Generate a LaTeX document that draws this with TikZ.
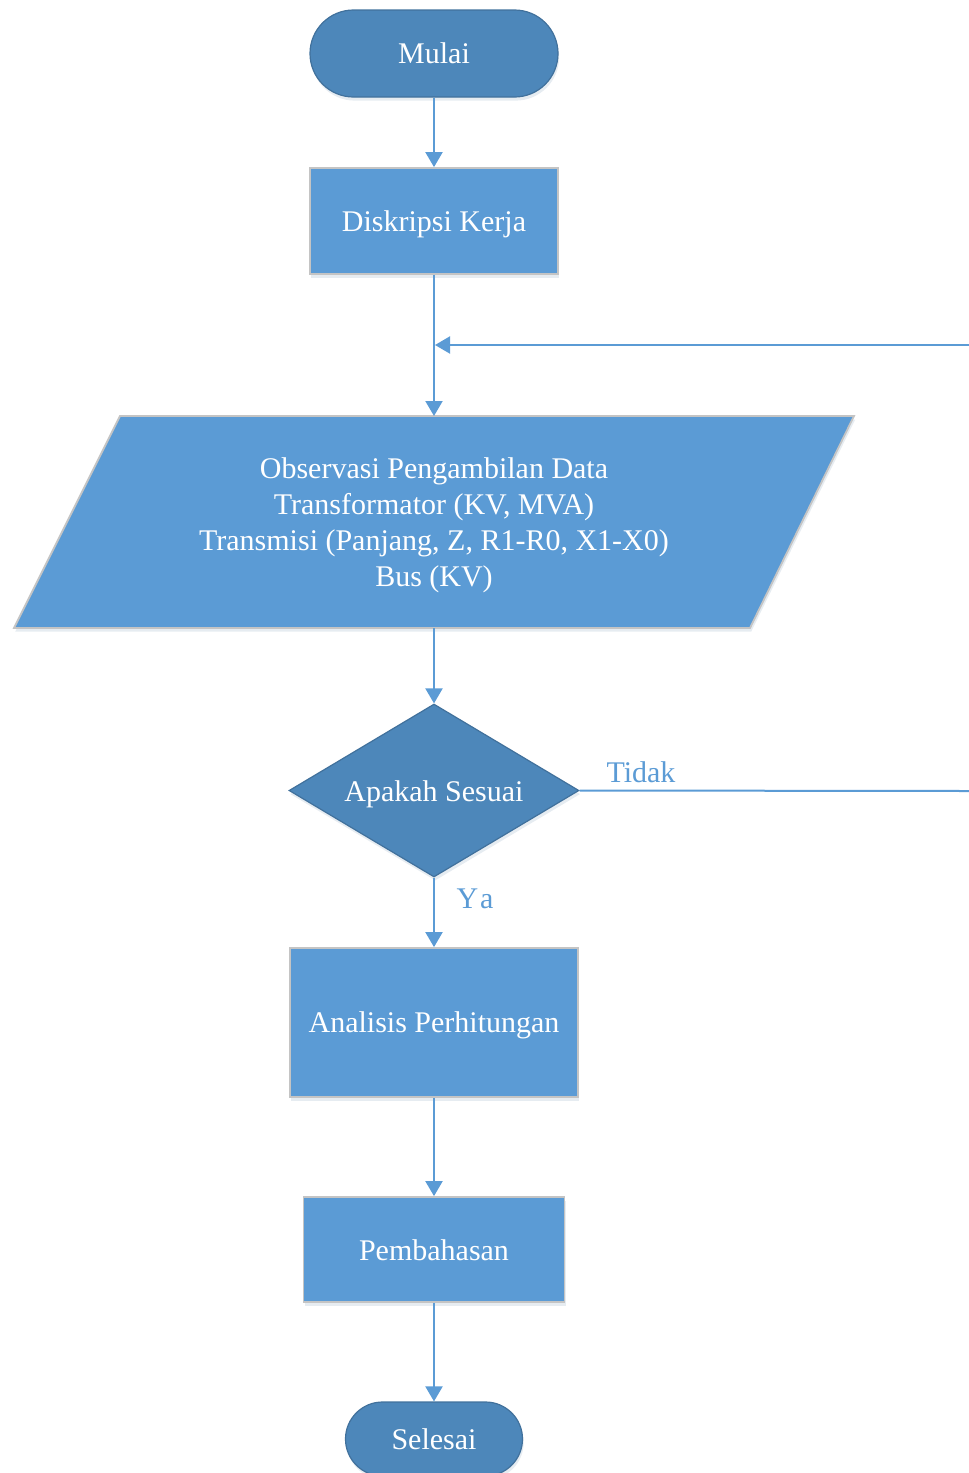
\documentclass[tikz,border=0pt]{standalone}
\usepackage{fontspec}
\setmainfont{Liberation Serif}
\usetikzlibrary{arrows.meta,shapes.geometric,shadows}
\definecolor{fillA}{HTML}{5B9BD5}
\definecolor{fillB}{HTML}{4D87BA}
\definecolor{edgeB}{HTML}{41719C}
\definecolor{edgeA}{HTML}{C4C4C4}
\begin{document}
\begin{tikzpicture}[x=0.5pt,y=-0.5pt,
  base/.style={font=\fontsize{15}{18}\selectfont, text=white, align=center, inner sep=0pt},
  shad/.style={drop shadow={shadow xshift=0.6pt, shadow yshift=-1.8pt, opacity=0.13, fill=fillA!70!black}},
  term/.style={base, rectangle, fill=fillB, draw=edgeB, line width=0.6pt, shad},
  proc/.style={base, rectangle, fill=fillA, draw=edgeA, line width=0.9pt, shad},
  dec/.style={base, diamond, fill=fillB, draw=edgeB, line width=0.6pt, shad},
  arr/.style={draw=fillA, line width=1pt, -{Triangle[width=8.5pt,length=7.5pt]}},
  ln/.style={draw=fillA, line width=1pt},
  lbl/.style={font=\fontsize{15}{18}\selectfont, text=fillA, inner sep=0pt}]
\useasboundingbox (0,0) rectangle (969,1473);

% nodes
\node[term, minimum width=124pt, minimum height=43.5pt, rounded corners=21.75pt] (mulai) at (434,53.5) {Mulai};
\node[proc, minimum width=124pt, minimum height=53pt, text height=13.2pt, text depth=3.2pt] (desk) at (434,221) {Diskripsi Kerja};

\filldraw[fill=fillA, draw=edgeA, line width=0.9pt, shad] (120,416) -- (854,416) -- (750,628) -- (14,628) -- cycle;
\node[base] (obs) at (434,525) {Observasi Pengambilan Data\\Transformator (KV, MVA)\\Transmisi (Panjang, Z, R1-R0, X1-X0)\\Bus (KV)};
\coordinate (obsT) at (434,416);
\coordinate (obsB) at (434,628);

\node[dec, aspect=1.676, minimum width=145pt, minimum height=86.5pt, text height=14pt, text depth=3.2pt] (cek) at (434,790.5) {Apakah Sesuai};
\node[proc, minimum width=144pt, minimum height=74.5pt, text height=13.2pt, text depth=3.2pt] (anal) at (434,1022.5) {Analisis Perhitungan};
\node[proc, minimum width=130.5pt, minimum height=52.5pt, text height=14.5pt, text depth=3.2pt] (bahas) at (434,1249.5) {Pembahasan};
\node[term, minimum width=88.5pt, minimum height=37pt, rounded corners=18.5pt] (selesai) at (434,1439) {Selesai};

\coordinate (backR) at (969,345);
\coordinate (backJ) at (435,345);
\coordinate (tidakR) at (969,791);

% connectors
\draw[arr] (mulai) -- (desk);
\draw[arr] (desk) -- (obsT);
\draw[arr] (backR) -- (backJ);
\draw[arr] (obsB) -- (cek);
\draw[ln] (cek.east) -- (tidakR);
\draw[arr] (cek) -- (anal);
\draw[arr] (anal) -- (bahas);
\draw[arr] (bahas) -- (selesai);

% labels
\node[lbl] (tidak) at (641,772) {Tidak};
\node[lbl] (ya) at (475,899) {Y\kern1pt a};
\end{tikzpicture}
\end{document}
